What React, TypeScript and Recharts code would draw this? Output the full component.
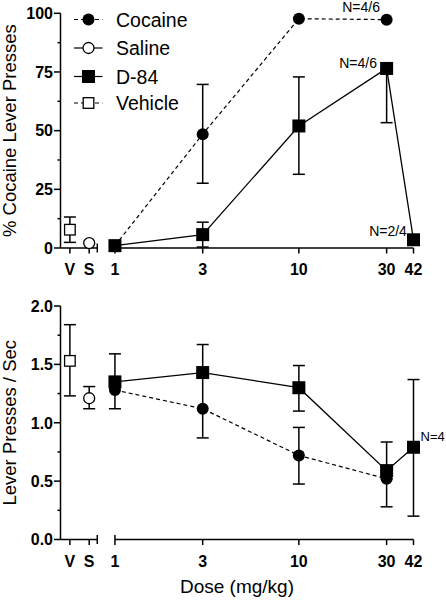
import React from "react";
import {
  ComposedChart,
  Line,
  XAxis,
  YAxis,
  ErrorBar,
  ReferenceLine,
  ReferenceDot,
} from "recharts";

// doses sit on a log axis, the two controls sit left of the axis break
const doses = [1, 3, 10, 30, 42];
const doseLabels = ["1", "3", "10", "30", "42"];

// % cocaine lever presses (top panel), cocaine has no 42 dose
const cocainePct = [1, 48.5, 97.7, 97.3];
const cocainePctLo = [1, 27.6, 97.7, 97.3];
const cocainePctHi = [1, 69.7, 97.7, 97.3];
const d84Pct = [1, 5.7, 52, 76.5, 3.5];
const d84PctLo = [1, 0.4, 31.4, 53.4, 3.5];
const d84PctHi = [1, 11, 72.9, 76.5, 3.5];
const vehiclePct = 7.8;
const vehiclePctLo = 2.4;
const vehiclePctHi = 13.2;
const salinePct = 2.1;
const salinePctLo = 2.1;
const salinePctHi = 2.1;

// lever presses / sec (bottom panel)
const cocaineRate = [1.28, 1.12, 0.72, 0.52];
const cocaineRateLo = [1.28, 0.87, 0.475, 0.28];
const cocaineRateHi = [1.28, 1.4, 0.96, 0.52];
const d84Rate = [1.35, 1.43, 1.3, 0.59, 0.79];
const d84RateLo = [1.12, 1.43, 1.1, 0.59, 0.2];
const d84RateHi = [1.59, 1.67, 1.49, 0.835, 1.37];
const vehicleRate = 1.53;
const vehicleRateLo = 1.23;
const vehicleRateHi = 1.84;
const salineRate = 1.21;
const salineRateLo = 1.12;
const salineRateHi = 1.31;

const pctTicks = [0, 12.5, 25, 37.5, 50, 62.5, 75, 87.5, 100];
const rateTicks = [0, 0.25, 0.5, 0.75, 1, 1.25, 1.5, 1.75, 2];

// axis positions in decades of dose (log10), controls are placed left of dose 1
const xStart = -0.296;
const posV = -0.245;
const posS = -0.14;
const posBreak = -0.096;
const xEnd = Math.log10(42);

const FONT = "'Liberation Sans', Arial, Helvetica, sans-serif";

const err = (m: number, lo: number, hi: number) =>
  lo === m && hi === m ? undefined : [m - lo, hi - m];

function buildRows(
  coc: number[], cocLo: number[], cocHi: number[],
  d84: number[], d84Lo: number[], d84Hi: number[],
  veh: number, vehLo: number, vehHi: number,
  sal: number, salLo: number, salHi: number
) {
  const rows: any[] = [
    { x: posV, vehicle: veh, vehicleErr: err(veh, vehLo, vehHi) },
    { x: posS, saline: sal, salineErr: err(sal, salLo, salHi) },
  ];
  doses.forEach((d, i) => {
    rows.push({
      x: Math.log10(d),
      cocaine: i < coc.length ? coc[i] : undefined,
      cocaineErr: i < coc.length ? err(coc[i], cocLo[i], cocHi[i]) : undefined,
      d84: d84[i],
      d84Err: err(d84[i], d84Lo[i], d84Hi[i]),
    });
  });
  return rows;
}

const pctRows = buildRows(
  cocainePct, cocainePctLo, cocainePctHi,
  d84Pct, d84PctLo, d84PctHi,
  vehiclePct, vehiclePctLo, vehiclePctHi,
  salinePct, salinePctLo, salinePctHi
);
const rateRows = buildRows(
  cocaineRate, cocaineRateLo, cocaineRateHi,
  d84Rate, d84RateLo, d84RateHi,
  vehicleRate, vehicleRateLo, vehicleRateHi,
  salineRate, salineRateLo, salineRateHi
);

// marker shapes
const FilledCircle = (p: any) =>
  p.cy == null ? null : <circle key={`fc${p.index}`} cx={p.cx} cy={p.cy} r={6} fill="#000" />;
const OpenCircle = (p: any) =>
  p.cy == null ? null : (
    <circle key={`oc${p.index}`} cx={p.cx} cy={p.cy} r={5.5} fill="#fff" stroke="#000" strokeWidth={1.3} />
  );
const FilledSquare = (p: any) =>
  p.cy == null ? null : (
    <rect key={`fs${p.index}`} x={p.cx - 6.5} y={p.cy - 6.5} width={13} height={13} fill="#000" />
  );
const OpenSquare = (p: any) =>
  p.cy == null ? null : (
    <rect key={`os${p.index}`} x={p.cx - 5.3} y={p.cy - 5.3} width={10.6} height={10.6} fill="#fff" stroke="#000" strokeWidth={1.3} />
  );

function DoseTick(props: any) {
  const { x, y, payload } = props;
  const v = payload.value;
  let label = "";
  let y1 = y;
  let y2 = y + 5.5;
  if (v === posV) label = "V";
  else if (v === posS) label = "S";
  else if (v === posBreak) {
    y1 = y - 4.5;
    y2 = y + 4.5;
  } else {
    const i = doses.findIndex((d) => Math.abs(Math.log10(d) - v) < 1e-6);
    label = doseLabels[i];
    if (i === 0) y1 = y - 4.5;
  }
  return (
    <g>
      <line x1={x} x2={x} y1={y1} y2={y2} stroke="#000" strokeWidth={1.5} />
      <text x={x} y={y + 27} textAnchor="middle" fontSize={16} fontWeight="bold" fill="#000">
        {label}
      </text>
    </g>
  );
}

// major ticks carry a label and a longer tick, minor ticks are short and bare
const valueTick = (format: (v: number) => string) => (props: any) => {
  const { x, y, payload } = props;
  const label = format(payload.value);
  return (
    <g>
      <line x1={x - (label ? 6.5 : 3)} x2={x} y1={y} y2={y} stroke="#000" strokeWidth={1.5} />
      {label ? (
        <text x={x - 7.5} y={y} dy="0.36em" textAnchor="end" fontSize={16} fontWeight="bold" fill="#000">
          {label}
        </text>
      ) : null}
    </g>
  );
};

const noteShape = (text: string, dx: number, dy: number, anchor = "middle", size = 14) => (p: any) => (
  <text x={p.cx + dx} y={p.cy + dy} textAnchor={anchor} fontSize={size} fill="#000" stroke="none">
    {text}
  </text>
);

const xTicks = [posV, posS, posBreak, ...doses.map((d) => Math.log10(d))];

interface PanelProps {
  rows: any[];
  height: number;
  marginTop: number;
  axisHeight: number;
  yMax: number;
  yTicks: number[];
  yFormat: (v: number) => string;
  yLabel: string;
  xLabel?: string;
  children?: React.ReactNode;
}

function Panel({ rows, height, marginTop, axisHeight, yMax, yTicks, yFormat, yLabel, xLabel, children }: PanelProps) {
  return (
    <ComposedChart
      width={446}
      height={height}
      data={rows}
      margin={{ top: marginTop, right: 32.5, left: 0, bottom: 0 }}
    >
      <ReferenceLine
        segment={[{ x: xStart, y: 0 }, { x: posBreak, y: 0 }]}
        stroke="#000"
        strokeWidth={1.5}
        ifOverflow="visible"
      />
      <ReferenceLine
        segment={[{ x: 0, y: 0 }, { x: xEnd, y: 0 }]}
        stroke="#000"
        strokeWidth={1.5}
        ifOverflow="visible"
      />
      <XAxis
        type="number"
        dataKey="x"
        domain={[xStart, xEnd]}
        ticks={xTicks}
        interval={0}
        axisLine={false}
        tickLine={false}
        tickSize={0}
        tickMargin={0}
        height={axisHeight}
        tick={<DoseTick />}
        label={
          xLabel
            ? { value: xLabel, position: "insideBottom", offset: 7, fontSize: 19, fill: "#000" }
            : undefined
        }
      />
      <YAxis
        type="number"
        domain={[0, yMax]}
        ticks={yTicks}
        interval={0}
        width={60.5}
        tickSize={0}
        tickMargin={0}
        axisLine={{ stroke: "#000", strokeWidth: 1.5 }}
        tickLine={false}
        tick={valueTick(yFormat)}
        label={{
          value: yLabel,
          angle: -90,
          position: "insideLeft",
          offset: 9,
          style: { textAnchor: "middle" },
          fontSize: 18.5,
          fill: "#000",
        }}
      />
      <Line
        dataKey="vehicle"
        stroke="#000"
        strokeWidth={1.3}
        dot={OpenSquare}
        activeDot={false}
        isAnimationActive={false}
      >
        <ErrorBar dataKey="vehicleErr" direction="y" width={6} stroke="#000" strokeWidth={1.5} isAnimationActive={false} />
      </Line>
      <Line
        dataKey="saline"
        stroke="#000"
        strokeWidth={1.3}
        dot={OpenCircle}
        activeDot={false}
        isAnimationActive={false}
      >
        <ErrorBar dataKey="salineErr" direction="y" width={6} stroke="#000" strokeWidth={1.5} isAnimationActive={false} />
      </Line>
      <Line
        dataKey="cocaine"
        stroke="#000"
        strokeWidth={1.2}
        strokeDasharray="4 3"
        dot={FilledCircle}
        activeDot={false}
        isAnimationActive={false}
      >
        <ErrorBar dataKey="cocaineErr" direction="y" width={6} stroke="#000" strokeWidth={1.5} isAnimationActive={false} />
      </Line>
      <Line
        dataKey="d84"
        stroke="#000"
        strokeWidth={1.3}
        dot={FilledSquare}
        activeDot={false}
        isAnimationActive={false}
      >
        <ErrorBar dataKey="d84Err" direction="y" width={6} stroke="#000" strokeWidth={1.5} isAnimationActive={false} />
      </Line>
      {children}
    </ComposedChart>
  );
}

const legendItems = [
  { name: "Cocaine", dashed: true, marker: "filledCircle" },
  { name: "Saline", dashed: false, marker: "openCircle" },
  { name: "D-84", dashed: false, marker: "filledSquare" },
  { name: "Vehicle", dashed: true, marker: "openSquare" },
];
const legendRowY = [19.5, 48, 76.5, 103];

function LegendOverlay() {
  return (
    <svg
      width={446}
      height={120}
      style={{ position: "absolute", left: 0, top: 0, pointerEvents: "none" }}
    >
      {legendItems.map((item, i) => {
        const cy = legendRowY[i];
        const cx = 88.5;
        return (
          <g key={item.name}>
            <line
              x1={74}
              x2={102.5}
              y1={cy}
              y2={cy}
              stroke="#000"
              strokeWidth={1.2}
              strokeDasharray={item.dashed ? "4 3" : undefined}
            />
            {item.marker === "filledCircle" && FilledCircle({ cx, cy, index: 0 })}
            {item.marker === "openCircle" && OpenCircle({ cx, cy, index: 0 })}
            {item.marker === "filledSquare" && FilledSquare({ cx, cy, index: 0 })}
            {item.marker === "openSquare" && OpenSquare({ cx, cy, index: 0 })}
            <text x={116} y={cy + 7} fontSize={19.5} fill="#000" fontFamily={FONT}>
              {item.name}
            </text>
          </g>
        );
      })}
    </svg>
  );
}

export default function App() {
  return (
    <div
      style={{
        position: "absolute",
        left: 0,
        top: 0,
        width: 446,
        height: 600,
        background: "#fff",
        fontFamily: FONT,
      }}
    >
      <div style={{ position: "absolute", left: 0, top: 0 }}>
        <Panel
          rows={pctRows}
          height={290}
          marginTop={13.3}
          axisHeight={42}
          yMax={100}
          yTicks={pctTicks}
          yFormat={(v) => (v % 25 === 0 ? String(v) : "")}
          yLabel="% Cocaine Lever Presses"
        >
          <ReferenceDot x={Math.log10(30)} y={cocainePct[3]} r={1} ifOverflow="visible" shape={noteShape("N=4/6", -25.5, -8)} />
          <ReferenceDot x={Math.log10(30)} y={d84Pct[3]} r={1} ifOverflow="visible" shape={noteShape("N=4/6", -28.5, 0)} />
          <ReferenceDot x={Math.log10(42)} y={d84Pct[4]} r={1} ifOverflow="visible" shape={noteShape("N=2/4", -25.5, -4)} />
        </Panel>
      </div>
      <div style={{ position: "absolute", left: 0, top: 290 }}>
        <Panel
          rows={rateRows}
          height={310}
          marginTop={16}
          axisHeight={60.5}
          yMax={2}
          yTicks={rateTicks}
          yFormat={(v) => (Math.round(v * 100) % 50 === 0 ? v.toFixed(1) : "")}
          yLabel="Lever Presses / Sec"
          xLabel="Dose (mg/kg)"
        >
          <ReferenceDot x={Math.log10(42)} y={d84Rate[4]} r={1} ifOverflow="visible" shape={noteShape("N=4", 7, -6.6, "start", 13)} />
        </Panel>
      </div>
      <LegendOverlay />
    </div>
  );
}
